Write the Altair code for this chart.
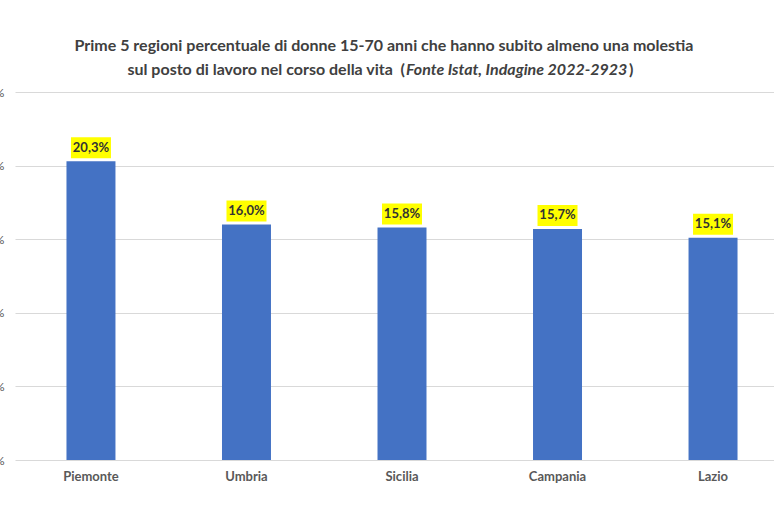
import altair as alt
import pandas as pd

regions = ["Piemonte", "Umbria", "Sicilia", "Campania", "Lazio"]
values = [20.3, 16.0, 15.8, 15.7, 15.1]
y_ticks = [0, 5, 10, 15, 20, 25]

title_line1 = "Prime 5 regioni percentuale di donne 15-70 anni che hanno subito almeno una molestia"
title_line2a = "sul posto di lavoro nel corso della vita\u00a0\u00a0("
title_line2b = "Fonte Istat, Indagine 2022-2923"
title_line2c = ")"

df = pd.DataFrame({"regione": regions, "valore": values})

FONT = "Lato"
GREY = "#595959"
TFS = 16

x = alt.X("regione:N", sort=regions, title=None,
          scale=alt.Scale(range=[0, 774], paddingInner=0.685, paddingOuter=0.331),
          axis=alt.Axis(labelAngle=0, domain=False, ticks=False, labelPadding=10,
                        labelFont=FONT, labelFontSize=13, labelFontWeight="bold",
                        labelColor=GREY))
y = alt.Y("valore:Q", title=None,
          scale=alt.Scale(domain=[0, 25], nice=False),
          axis=alt.Axis(values=y_ticks, labelExpr="datum.value + '%'", domain=False,
                        ticks=False, labelPadding=11, labelFont=FONT, labelFontSize=12,
                        labelColor=GREY, gridColor="#d9d9d9", gridWidth=1))

base = alt.Chart(df)

bars = base.mark_bar(color="#4472C4").encode(x=x, y=y)

boxes = base.transform_calculate(
    lo="datum.valore + 0.2", hi="datum.valore + 1.63"
).mark_bar(color="#FFFF00", size=40).encode(
    x=alt.X("regione:N", sort=regions),
    y=alt.Y("lo:Q"), y2="hi:Q")

labels = base.transform_calculate(
    lab="replace(format(datum.valore, '.1f'), '.', ',') + '%'"
).mark_text(font=FONT, fontSize=13, fontWeight="bold", color="#333333",
            baseline="middle", dy=-13.5).encode(
    x=alt.X("regione:N", sort=regions), y=alt.Y("valore:Q"), text="lab:N")

t1 = alt.Chart(pd.DataFrame({"t": [title_line1]})).mark_text(
    font=FONT, fontSize=TFS, fontWeight="bold", color="#404040",
    align="center", baseline="middle").encode(
    text="t:N", x=alt.value(369), y=alt.value(-46))
t2a = alt.Chart(pd.DataFrame({"t": [title_line2a]})).mark_text(
    font=FONT, fontSize=TFS, fontWeight="bold", color="#404040",
    align="right", baseline="middle").encode(
    text="t:N", x=alt.value(390), y=alt.value(-22))
t2b = alt.Chart(pd.DataFrame({"t": [title_line2b]})).mark_text(
    font=FONT, fontSize=TFS, fontWeight="bold", fontStyle="italic", color="#404040",
    align="left", baseline="middle").encode(
    text="t:N", x=alt.value(391), y=alt.value(-22))
t2c = alt.Chart(pd.DataFrame({"t": [title_line2c]})).mark_text(
    font=FONT, fontSize=TFS, fontWeight="bold", color="#404040",
    align="left", baseline="middle").encode(
    text="t:N", x=alt.value(614), y=alt.value(-22))

chart = alt.layer(bars, boxes, labels, t1, t2a, t2b, t2c).properties(
    width=759, height=368,
    autosize=alt.AutoSizeParams(type="none"),
    padding={"left": 15, "top": 92, "right": 0, "bottom": 56},
    background="white",
).configure_view(stroke=None)

chart.save("out.html", embed_options={"renderer": "svg", "actions": False})
